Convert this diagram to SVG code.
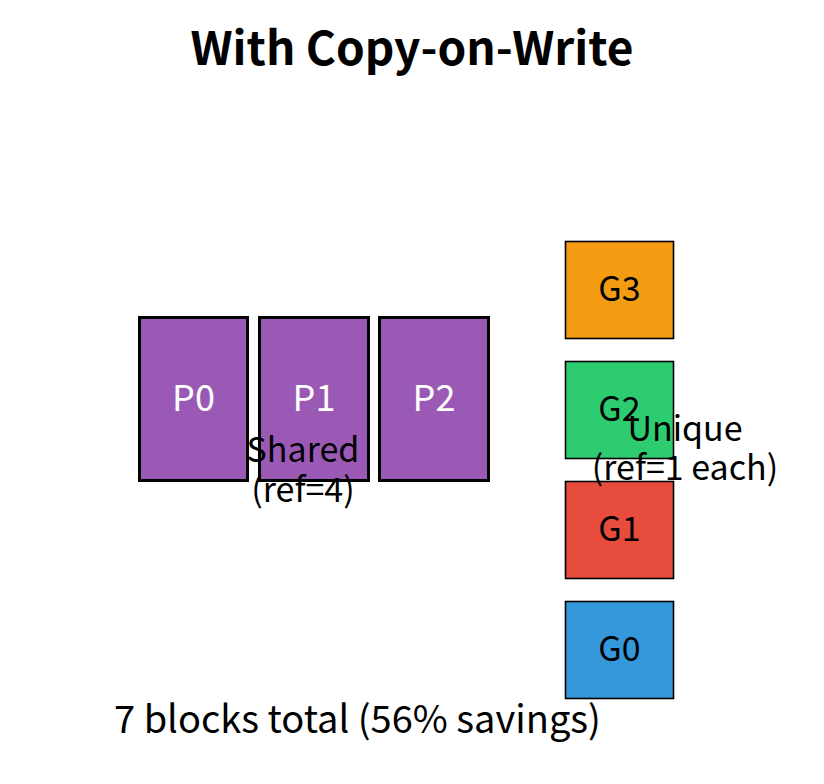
<svg xmlns="http://www.w3.org/2000/svg" width="824" height="784" viewBox="0 0 824 784">
<style>
text{font-family:"Noto Sans CJK SC","Source Sans Pro","Noto Sans",sans-serif;text-anchor:middle}
.p{fill:#9b59b6;stroke:#000;stroke-width:3}
.g{stroke:#000;stroke-width:1.6}
.pl{fill:#fff;font-size:36px}
.gl{fill:#000;font-size:34px}
.lbl{fill:#000;font-size:34px}
</style>
<rect width="824" height="784" fill="#fff"/>
<text x="412" y="65" style="font-size:46px;font-weight:bold">With Copy-on-Write</text>
<g id="connectors"></g>
<g id="P0"><rect class="p" x="139.5" y="317.5" width="108" height="163"/><text class="pl" x="193.5" y="411">P0</text></g>
<g id="P1"><rect class="p" x="259.5" y="317.5" width="109" height="163"/><text class="pl" x="314" y="411">P1</text></g>
<g id="P2"><rect class="p" x="379.5" y="317.5" width="109" height="163"/><text class="pl" x="434" y="411">P2</text></g>
<g id="G3"><rect class="g" x="565.5" y="241.5" width="108" height="97" fill="#f39c12"/><text class="gl" x="619.5" y="301">G3</text></g>
<g id="G2"><rect class="g" x="565.5" y="361.5" width="108" height="97" fill="#2ecc71"/><text class="gl" x="619.5" y="421">G2</text></g>
<g id="G1"><rect class="g" x="565.5" y="481.5" width="108" height="97" fill="#e74c3c"/><text class="gl" x="619.5" y="541">G1</text></g>
<g id="G0"><rect class="g" x="565.5" y="601.5" width="108" height="97" fill="#3498db"/><text class="gl" x="619.5" y="661">G0</text></g>
<g id="shared-label"><text class="lbl" x="303" y="462">Shared</text><text class="lbl" x="303" y="502">(ref=4)</text></g>
<g id="unique-label"><text class="lbl" x="685" y="441">Unique</text><text class="lbl" x="685" y="480">(ref=1 each)</text></g>
<text class="lbl" x="357.5" y="733" style="font-size:38px">7 blocks total (56% savings)</text>
</svg>
